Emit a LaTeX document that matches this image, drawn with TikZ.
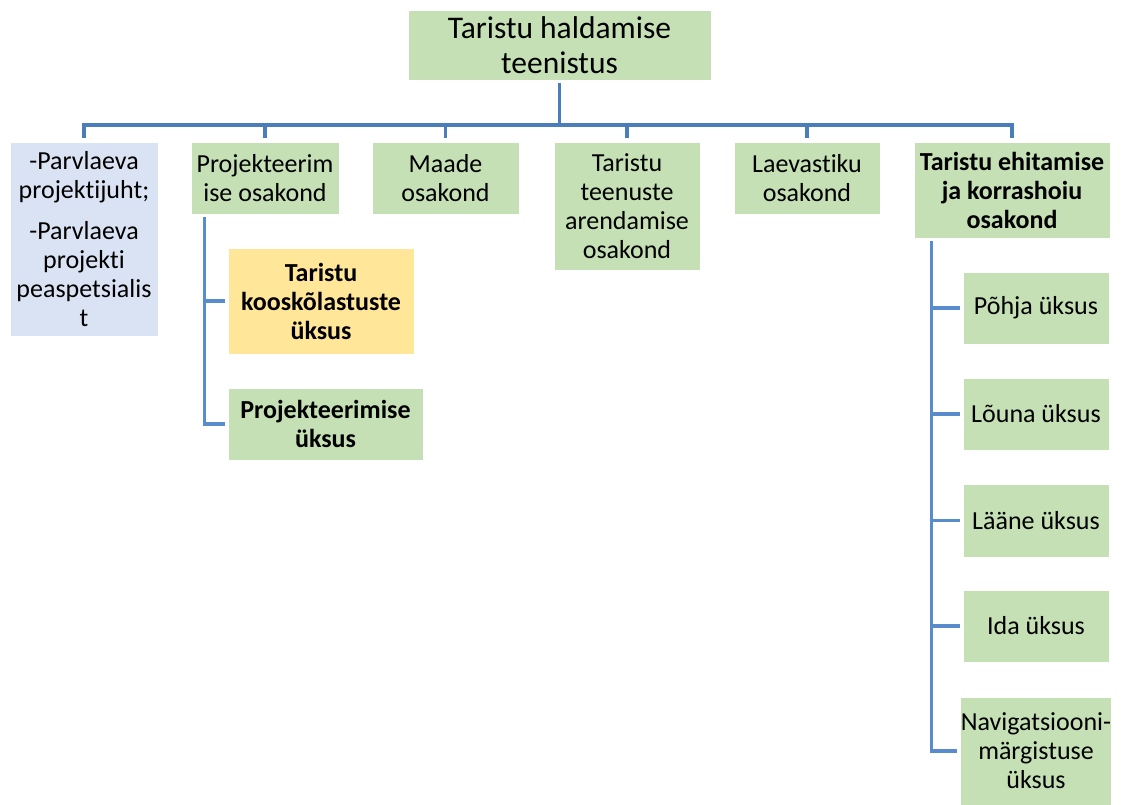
\documentclass[tikz,border=0pt]{standalone}
\usepackage{fontspec}
\setmainfont{Carlito}[Ligatures=CommonOff]
\definecolor{unitgreen}{RGB}{197,224,180}
\definecolor{staffblue}{RGB}{218,227,243}
\definecolor{unityellow}{RGB}{255,230,153}
\definecolor{linkblue}{RGB}{74,126,187}
\definecolor{sublinkblue}{RGB}{88,140,204}
\begin{document}
\begin{tikzpicture}[x=1pt,y=-1pt,
  orgbox/.style={fill=unitgreen, draw=white, line width=0.8pt, inner sep=0pt,
    align=center, font=\fontsize{26}{29}\selectfont},
  titlebox/.style={orgbox, font=\fontsize{31.5}{35}\selectfont},
  conn/.style={draw=linkblue, line width=3.2pt},
  subconn/.style={draw=sublinkblue, line width=3.2pt, shorten <=3pt, shorten >=3pt},
]
\useasboundingbox (0,0) rectangle (1136,805);

% head of the service
\node[titlebox, minimum width=303pt, minimum height=70pt] (top) at (559.5,45)
  {Taristu haldamise\\teenistus};

% departments and staff
\node[orgbox, fill=staffblue, minimum width=148pt, minimum height=194pt] (par) at (84,239)
  {-Parvlaeva\\projektijuht;\\[12pt]-Parvlaeva\\projekti\\peaspetsialis\\t};
\node[orgbox, minimum width=148pt, minimum height=72pt] (proj) at (265,178)
  {Projekteerim\\ise osakond};
\node[orgbox, minimum width=147pt, minimum height=72pt] (maade) at (445.5,178)
  {Maade\\osakond};
\node[orgbox, minimum width=146pt, minimum height=128pt] (teen) at (627,206)
  {Taristu\\teenuste\\arendamise\\osakond};
\node[orgbox, minimum width=146pt, minimum height=72pt] (laev) at (807,178)
  {Laevastiku\\osakond};
\node[orgbox, minimum width=196pt, minimum height=96pt, font=\fontsize{26}{29}\selectfont\bfseries] (ehit) at (1012,190)
  {Taristu ehitamise\\ja korrashoiu\\osakond};

% units of the design department
\node[orgbox, fill=unityellow, minimum width=186pt, minimum height=106pt, font=\fontsize{26}{29}\selectfont\bfseries] (koos) at (321,301)
  {Taristu\\kooskõlastuste\\üksus};
\node[orgbox, minimum width=195pt, minimum height=72pt, font=\fontsize{26}{29}\selectfont\bfseries] (projy) at (325.5,424)
  {Projekteerimise\\üksus};

% units of the construction and maintenance department
\node[orgbox, minimum width=146pt, minimum height=72pt] (pohja) at (1036,308) {Põhja üksus};
\node[orgbox, minimum width=146pt, minimum height=72pt] (louna) at (1036,414) {Lõuna üksus};
\node[orgbox, minimum width=146pt, minimum height=73pt] (laane) at (1036,520.5) {Lääne üksus};
\node[orgbox, minimum width=146pt, minimum height=72pt] (ida) at (1036,626) {Ida üksus};
\node[orgbox, minimum width=146pt, minimum height=108pt] (nav) at (1036,751)
  {Navigatsiooni-\\märgistuse\\üksus};

% connectors
\coordinate (hub) at (559.5,125);
\draw[conn, shorten <=3pt] (top.south) -- (hub);
\foreach \n in {par,proj,maade,teen,laev,ehit}
  \draw[conn, shorten >=4pt] (hub) -| (\n.north);

\foreach \n in {koos,projy}
  \draw[subconn] ([xshift=14pt]proj.south west) |- (\n.west);

\foreach \n in {pohja,louna,laane,ida,nav}
  \draw[subconn] ([xshift=18pt]ehit.south west) |- (\n.west);
\end{tikzpicture}
\end{document}
